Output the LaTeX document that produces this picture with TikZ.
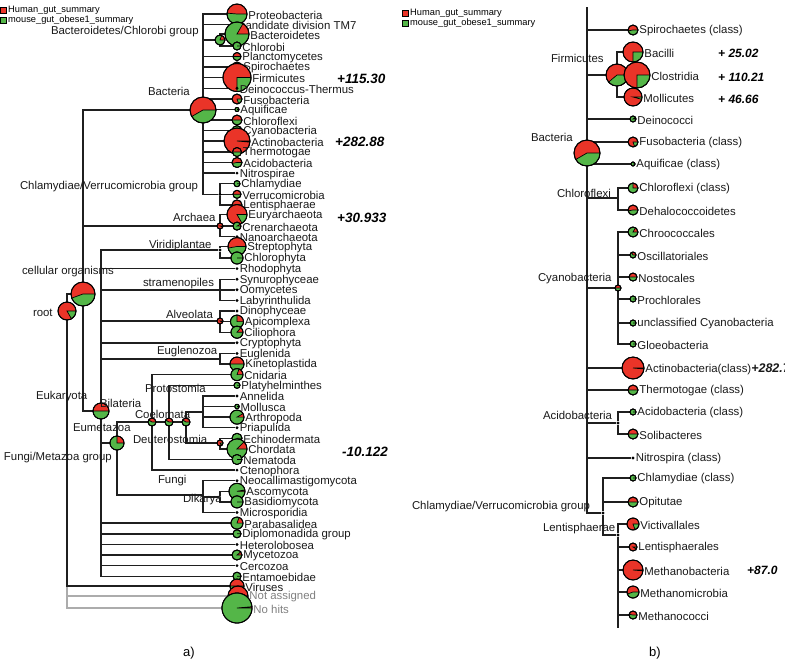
\documentclass[tikz,border=0pt]{standalone}
\usepackage{fontspec}
\setmainfont{Liberation Sans}
\usetikzlibrary{backgrounds}
\definecolor{pred}{RGB}{234,52,40}
\definecolor{pgreen}{RGB}{84,182,72}
\tikzset{
  tree/.style={line width=1.4pt, draw=black!88},
  gtree/.style={line width=1.4pt, draw=gray!65},
  lab/.style={font=\fontsize{11.4}{13}\selectfont, inner sep=0.8pt, text=black!90},
  ilab/.style={lab, anchor=west},
  num/.style={font=\fontsize{13.5}{15}\selectfont\bfseries\itshape, anchor=west, inner sep=0pt},
  rnum/.style={font=\fontsize{12}{14}\selectfont\bfseries\itshape, anchor=west, inner sep=0pt},
  dotn/.style={circle, fill=black, inner sep=0pt, minimum size=3.2pt},
  piebase/.style={circle, inner sep=0pt, fill=pred, draw=black, line width=0.9pt},
  legtext/.style={font=\fontsize{9.3}{10}\selectfont, anchor=west, inner sep=0pt},
  legbox/.style={draw=black, line width=0.6pt, minimum size=6pt, inner sep=0pt},
}
% name, x, y, r, A (red from 0 to A, green from A to 360)
\newcommand{\mypie}[5]{%
  \node[piebase, minimum size=#4*2pt] (#1) at (#2,#3) {};
  \filldraw[fill=pgreen, draw=black, line width=0.7pt] (#1.center) -- ++(#5:#4pt) arc[start angle=#5, end angle=360, radius=#4pt] -- cycle;
  \draw[line width=0.9pt] (#1.center) circle[radius=#4pt];
}
\newcommand{\myleafpie}[6]{%
  \mypie{#1}{#2}{#3}{#4}{#5}
  \node[lab, anchor=west] at ([yshift=-1pt]#1.east) {#6};
}
\newcommand{\myleafdot}[4]{%
  \node[dotn] (#1) at (#2,#3) {};
  \node[lab, anchor=west] at ([yshift=-1pt]#1.east) {#4};
}
\begin{document}
\begin{tikzpicture}[x=1pt, y=-1pt]
\useasboundingbox (0,0) rectangle (785,662);

% ---------------- legends
\node[legbox, fill=pred] (lgA1) at (3,10) {};
\node[legtext] at (8,10) {Human\_gut\_summary};
\node[legbox, fill=pgreen] (lgA2) at (3,20) {};
\node[legtext] at (8,20) {mouse\_gut\_obese1\_summary};
\node[legbox, fill=pred] (lgB1) at (405,13) {};
\node[legtext] at (410,13) {Human\_gut\_summary};
\node[legbox, fill=pgreen] (lgB2) at (405,23) {};
\node[legtext] at (410,23) {mouse\_gut\_obese1\_summary};

% ---------------- panel a: internal nodes
\mypie{root}{67}{311}{9}{300}
\mypie{cellorg}{83}{294}{12}{200}
\mypie{bact}{203}{110}{13}{210}
\mypie{bcg}{220}{40}{5}{70}
\node[dotn] (cvg) at (220,194.5) {};
\mypie{archaea}{220}{226}{3}{340}
\node[dotn] (viridi) at (220,250) {};
\coordinate (stram) at (220,290);
\mypie{alveo}{220}{321}{3}{330}
\coordinate (eugl) at (220,359);
\mypie{eukar}{101}{411}{8}{180}
\mypie{fm}{117}{443}{7}{90}
\mypie{eumet}{152}{422}{4}{150}
\mypie{bilat}{169}{422}{4}{150}
\mypie{coel}{186}{422}{4}{150}
\coordinate (proto) at (203,412);
\mypie{deut}{220}{443}{3}{300}
\coordinate (fungi) at (203,495);
\node[dotn, minimum size=2pt] (dik) at (220,497) {};

% ---------------- panel a: leaves
\myleafpie{proteo}{237}{14}{10}{175}{Proteobacteria}
\myleafdot{tm7}{237}{24.6}{candidate division TM7}
\myleafpie{bacteroid}{237}{34}{12}{60}{Bacteroidetes}
\myleafpie{chlorobi}{237}{46}{4}{0}{Chlorobi}
\myleafpie{plancto}{237}{56.5}{4}{180}{Planctomycetes}
\myleafpie{spiro}{237}{67}{5}{200}{Spirochaetes}
\myleafpie{firmi}{237}{77.5}{14}{270}{Firmicutes}
\myleafdot{deino}{237}{88.2}{Deinococcus-Thermus}
\myleafpie{fuso}{237}{99}{5}{290}{Fusobacteria}
\myleafpie{aquif}{237}{109.5}{2}{0}{Aquificae}
\myleafpie{chlflex}{237}{120}{5}{180}{Chloroflexi}
\myleafpie{cyano}{237}{130.7}{5}{45}{Cyanobacteria}
\myleafpie{actino}{237}{141}{13}{355}{Actinobacteria}
\myleafpie{thermo}{237}{152}{4.5}{180}{Thermotogae}
\myleafpie{acido}{237}{162.5}{5}{190}{Acidobacteria}
\myleafdot{nitro}{237}{173.1}{Nitrospirae}
\myleafpie{chlamy}{237}{183.7}{3}{0}{Chlamydiae}
\myleafpie{verru}{237}{194.3}{4}{180}{Verrucomicrobia}
\myleafpie{lentis}{237}{204.9}{5}{300}{Lentisphaerae}
\myleafpie{eury}{237}{214.5}{10}{300}{Euryarchaeota}
\myleafpie{cren}{237}{226.1}{4}{30}{Crenarchaeota}
\myleafdot{nano}{237}{236.7}{Nanoarchaeota}
\myleafpie{strepto}{237}{246.5}{9}{190}{Streptophyta}
\myleafpie{chlorophy}{237}{258}{6}{0}{Chlorophyta}
\myleafdot{rhodo}{237}{268.6}{Rhodophyta}
\myleafdot{synuro}{237}{279.2}{Synurophyceae}
\myleafdot{oomy}{237}{289.8}{Oomycetes}
\myleafdot{labyr}{237}{300.4}{Labyrinthulida}
\myleafdot{dino}{237}{311}{Dinophyceae}
\myleafpie{apic}{237}{321.6}{6.5}{90}{Apicomplexa}
\myleafpie{cilio}{237}{332.2}{6}{50}{Ciliophora}
\myleafdot{crypto}{237}{342.8}{Cryptophyta}
\myleafdot{euglenida}{237}{353.4}{Euglenida}
\myleafpie{kineto}{237}{364}{7}{180}{Kinetoplastida}
\myleafpie{cnid}{237}{374.6}{6}{70}{Cnidaria}
\myleafpie{platy}{237}{385.3}{3}{0}{Platyhelminthes}
\myleafdot{annel}{237}{395.9}{Annelida}
\myleafpie{mollu}{237}{406.5}{2.2}{0}{Mollusca}
\myleafpie{arthro}{237}{417.1}{7}{30}{Arthropoda}
\myleafdot{priap}{237}{427.7}{Priapulida}
\myleafpie{echino}{237}{438.3}{5}{0}{Echinodermata}
\myleafpie{chord}{237}{448.9}{10}{45}{Chordata}
\myleafpie{nema}{237}{459.5}{5}{0}{Nematoda}
\myleafdot{cteno}{237}{470.1}{Ctenophora}
\myleafdot{neocal}{237}{480.7}{Neocallimastigomycota}
\myleafpie{asco}{237}{491.3}{8}{10}{Ascomycota}
\myleafpie{basid}{237}{501.9}{6}{0}{Basidiomycota}
\myleafdot{micro}{237}{512.5}{Microsporidia}
\myleafpie{parab}{237}{523.1}{6}{70}{Parabasalidea}
\myleafpie{diplo}{237}{533.8}{4}{0}{Diplomonadida group}
\myleafdot{hetero}{237}{544.4}{Heterolobosea}
\myleafpie{myceto}{237}{555}{5}{40}{Mycetozoa}
\myleafdot{cerco}{237}{565.6}{Cercozoa}
\myleafpie{entam}{237}{576.2}{4}{0}{Entamoebidae}
\myleafpie{viruses}{237}{586}{7}{180}{Viruses}
\myleafpie{notass}{238}{596}{10}{200}{\textcolor{gray}{Not assigned}}
\myleafpie{nohits}{237}{608}{15}{5}{\textcolor{gray}{No hits}}

% ---------------- panel a: internal labels
\node[ilab] at (50,32) {Bacteroidetes/Chlorobi group};
\node[ilab] at (147,91) {Bacteria};
\node[ilab] at (19,187) {Chlamydiae/Verrucomicrobia group};
\node[ilab] at (172,217) {Archaea};
\node[ilab] at (148,246) {Viridiplantae};
\node[ilab] at (21,272) {cellular organisms};
\node[ilab] at (142,284) {stramenopiles};
\node[ilab] at (32,313) {root};
\node[ilab] at (165,314) {Alveolata};
\node[ilab] at (156,352) {Euglenozoa};
\node[ilab] at (144,388) {Protostomia};
\node[ilab] at (35,397) {Eukaryota};
\node[ilab] at (99,403) {Bilateria};
\node[ilab] at (134,414) {Coelomata};
\node[ilab] at (72,428) {Eumetazoa};
\node[ilab] at (132,439) {Deuterostomia};
\node[ilab] at (3,458) {Fungi/Metazoa group};
\node[ilab] at (157,481) {Fungi};
\node[ilab] at (182,500) {Dikarya};

\node[num] at (337,79) {+115.30};
\node[num] at (335,142) {+282.88};
\node[num] at (337,218) {+30.933};
\node[num] at (342,452) {-10.122};

% ---------------- panel b
\coordinate (rtop) at (587,7);
\mypie{rbact}{587}{153}{13}{210}
\myleafpie{rspiro}{633}{30}{5}{190}{Spirochaetes (class)}
\mypie{rfirm}{617}{75}{11}{220}
\myleafpie{bacilli}{633}{52}{10}{270}{Bacilli}
\myleafpie{clost}{637}{75}{13}{270}{Clostridia}
\myleafpie{molli}{633}{97}{9}{345}{Mollicutes}
\myleafpie{deino2}{633}{119}{3}{30}{Deinococci}
\myleafpie{rfuso}{633}{142}{5}{290}{Fusobacteria (class)}
\myleafpie{raquif}{633}{164}{2}{0}{Aquificae (class)}
\coordinate (rchlx) at (618,198);
\myleafpie{rchlcl}{633}{188}{5}{90}{Chloroflexi (class)}
\myleafpie{dehalo}{633}{210}{5}{190}{Dehalococcoidetes}
\mypie{rcyano}{618}{288}{3}{180}
\myleafpie{chroo}{633}{232}{5}{60}{Chroococcales}
\myleafpie{oscil}{633}{255}{3}{120}{Oscillatoriales}
\myleafpie{nosto}{633}{277}{4}{180}{Nostocales}
\myleafpie{prochl}{633}{299}{3}{0}{Prochlorales}
\myleafpie{uncyano}{633}{323}{3}{0}{unclassified Cyanobacteria}
\myleafpie{gloeo}{633}{344}{3}{0}{Gloeobacteria}
\myleafpie{ractino}{633}{368}{11}{355}{Actinobacteria(class){\fontsize{12.5}{14}\selectfont\bfseries\itshape +282.7}}
\myleafpie{rthermo}{633}{390}{5}{180}{Thermotogae (class)}
\node[dotn] (racidon) at (618,423) {};
\myleafpie{racidocl}{633}{412}{3}{0}{Acidobacteria (class)}
\myleafpie{soli}{633}{434}{5}{180}{Solibacteres}
\myleafdot{rnitro}{633}{458}{Nitrospira (class)}
\node[dotn] (rcvg) at (603,513) {};
\myleafpie{rchlamcl}{633}{478}{3}{0}{Chlamydiae (class)}
\myleafpie{opit}{633}{502}{5}{180}{Opitutae}
\node[dotn] (rlentn) at (618,535) {};
\myleafpie{victi}{633}{524}{6}{290}{Victivallales}
\myleafpie{rlentis}{633}{547}{4}{330}{Lentisphaerales}
\myleafpie{methb}{633}{570}{10}{355}{Methanobacteria}
\myleafpie{methm}{633}{592}{6}{200}{Methanomicrobia}
\myleafpie{methc}{633}{615}{4}{170}{Methanococci}
\coordinate (rbottom) at (618,628);

\node[ilab] at (550,58) {Firmicutes};
\node[ilab] at (530,137) {Bacteria};
\node[ilab] at (556,193) {Chloroflexi};
\node[ilab] at (537,279) {Cyanobacteria};
\node[ilab] at (542,415) {Acidobacteria};
\node[ilab] at (411,507) {Chlamydiae/Verrucomicrobia group};
\node[ilab] at (542,529) {Lentisphaerae};

\node[rnum] at (718,53) {+ 25.02};
\node[rnum] at (718,77) {+ 110.21};
\node[rnum] at (718,99) {+ 46.66};
\node[rnum] at (747,570) {+87.0};

\node[font=\fontsize{13}{15}\selectfont] (capa) at (189,653) {a)};
\node[font=\fontsize{13}{15}\selectfont] (capb) at (655,653) {b)};

% ---------------- connectors (behind)
\begin{scope}[on background layer]
  \draw[gtree] (root) |- (notass);
  \draw[gtree] (root) |- (nohits);
  \foreach \c in {cellorg, viruses} \draw[tree] (root) |- (\c);
  \foreach \c in {bact, archaea, eukar} \draw[tree] (cellorg) |- (\c);
  \foreach \c in {proteo, tm7, bcg, plancto, spiro, firmi, deino, fuso, aquif, chlflex, cyano, actino, thermo, acido, nitro, cvg} \draw[tree] (bact) |- (\c);
  \foreach \c in {bacteroid, chlorobi} \draw[tree] (bcg) |- (\c);
  \foreach \c in {chlamy, verru, lentis} \draw[tree] (cvg) |- (\c);
  \foreach \c in {eury, cren, nano} \draw[tree] (archaea) |- (\c);
  \foreach \c in {viridi, rhodo, stram, alveo, crypto, eugl, fm, parab, diplo, hetero, myceto, cerco, entam} \draw[tree] (eukar) |- (\c);
  \foreach \c in {strepto, chlorophy} \draw[tree] (viridi) |- (\c);
  \foreach \c in {synuro, oomy, labyr} \draw[tree] (stram) |- (\c);
  \foreach \c in {dino, apic, cilio} \draw[tree] (alveo) |- (\c);
  \foreach \c in {euglenida, kineto} \draw[tree] (eugl) |- (\c);
  \foreach \c in {eumet, fungi} \draw[tree] (fm) |- (\c);
  \foreach \c in {cnid, bilat, cteno} \draw[tree] (eumet) |- (\c);
  \foreach \c in {platy, coel, nema} \draw[tree] (bilat) |- (\c);
  \foreach \c in {proto, deut} \draw[tree] (coel) |- (\c);
  \foreach \c in {annel, mollu, arthro, priap} \draw[tree] (proto) |- (\c);
  \foreach \c in {echino, chord} \draw[tree] (deut) |- (\c);
  \foreach \c in {neocal, dik, micro} \draw[tree] (fungi) |- (\c);
  \foreach \c in {asco, basid} \draw[tree] (dik) |- (\c);
  % panel b
  \draw[tree] (rbact) -- (rtop);
  \foreach \c in {rspiro, rfirm, deino2, rfuso, raquif, rchlx, rcyano, ractino, rthermo, racidon, rnitro, rcvg} \draw[tree] (rbact) |- (\c);
  \foreach \c in {bacilli, clost, molli} \draw[tree] (rfirm) |- (\c);
  \foreach \c in {rchlcl, dehalo} \draw[tree] (rchlx) |- (\c);
  \foreach \c in {chroo, oscil, nosto, prochl, uncyano, gloeo} \draw[tree] (rcyano) |- (\c);
  \foreach \c in {racidocl, soli} \draw[tree] (racidon) |- (\c);
  \foreach \c in {rchlamcl, opit, rlentn} \draw[tree] (rcvg) |- (\c);
  \foreach \c in {victi, rlentis, methb, methm, methc, rbottom} \draw[tree] (rlentn) |- (\c);
\end{scope}
\end{tikzpicture}
\end{document}
